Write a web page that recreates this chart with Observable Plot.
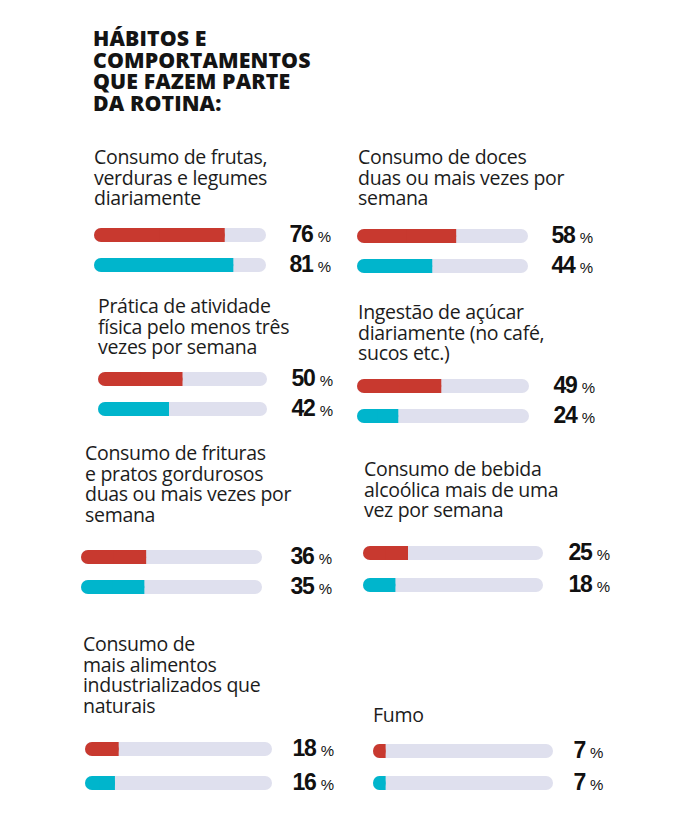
<!DOCTYPE html>
<html>
<head>
<meta charset="utf-8">
<script src="https://cdn.jsdelivr.net/npm/d3@7"></script>
<script src="https://cdn.jsdelivr.net/npm/@observablehq/plot@0.6"></script>
<style>
  html, body { margin: 0; padding: 0; background: #fff; }
  #wrap { position: relative; width: 680px; height: 823px; overflow: hidden; background: #fff; }
  .headline { position: absolute; font-family: "Open Sans", sans-serif; font-weight: 800; font-size: 21.3px; line-height: 21.7px; color: #141414; letter-spacing: 0.1px; white-space: nowrap; }
  .ptitle { position: absolute; font-family: "Open Sans", sans-serif; font-weight: 400; font-size: 19.5px; line-height: 20.5px; color: #1c1c1c; letter-spacing: -0.3px; white-space: nowrap; }
  .panel { position: absolute; }
</style>
</head>
<body>
<div id="wrap"></div>
<script>
// ---- data ----
const headline = ["HÁBITOS E", "COMPORTAMENTOS", "QUE FAZEM PARTE", "DA ROTINA:"];
const categories = [
  ["Consumo de frutas,", "verduras e legumes", "diariamente"],
  ["Consumo de doces", "duas ou mais vezes por", "semana"],
  ["Prática de atividade", "física pelo menos três", "vezes por semana"],
  ["Ingestão de açúcar", "diariamente (no café,", "sucos etc.)"],
  ["Consumo de frituras", "e pratos gordurosos", "duas ou mais vezes por", "semana"],
  ["Consumo de bebida", "alcoólica mais de uma", "vez por semana"],
  ["Consumo de", "mais alimentos", "industrializados que", "naturais"],
  ["Fumo"]
];
const seriesNames = ["vermelho", "azul"];
const redValues  = [76, 58, 50, 49, 36, 25, 18, 7];
const blueValues = [81, 44, 42, 24, 35, 18, 16, 7];
const colors = ["#c8392f", "#00b5cc"];
const trackColor = "#dfe0ee";

// ---- layout (page positions of each panel) ----
const layout = [
  {tx: 94,  ty: 147, bx: 94,  by: 220, w: 172, gap: 23, step: 30},
  {tx: 358, ty: 147, bx: 357, by: 221, w: 171, gap: 23, step: 30},
  {tx: 98,  ty: 296, bx: 98,  by: 364, w: 169, gap: 24, step: 30},
  {tx: 358, ty: 302, bx: 357, by: 371, w: 172, gap: 24, step: 30},
  {tx: 85,  ty: 443, bx: 81,  by: 542, w: 181, gap: 28, step: 30},
  {tx: 364, ty: 459, bx: 363, by: 537, w: 180, gap: 25, step: 32},
  {tx: 83,  ty: 634, bx: 85,  by: 732, w: 187, gap: 20, step: 34},
  {tx: 373, ty: 705, bx: 373, by: 735, w: 180, gap: 20, step: 32}
];

const wrap = document.getElementById("wrap");

const h = document.createElement("div");
h.className = "headline";
h.style.left = "93px";
h.style.top = "27px";
h.innerHTML = headline.join("<br>");
wrap.appendChild(h);

categories.forEach((lines, i) => {
  const L = layout[i];
  const t = document.createElement("div");
  t.className = "ptitle";
  t.style.left = L.tx + "px";
  t.style.top = L.ty + "px";
  t.innerHTML = lines.join("<br>");
  wrap.appendChild(t);

  const rows = [
    {series: seriesNames[0], value: redValues[i]},
    {series: seriesNames[1], value: blueValues[i]}
  ];
  const inset = (L.step - 14) / 2;
  const chart = Plot.plot({
    width: L.w + 90,
    height: L.step * 2,
    marginLeft: 0,
    marginRight: 90,
    marginTop: 0,
    marginBottom: 0,
    x: {domain: [0, 100], axis: null},
    y: {domain: seriesNames, padding: 0, axis: null},
    color: {domain: seriesNames, range: colors},
    style: {background: "transparent", overflow: "visible"},
    marks: [
      Plot.barX(rows, {x1: 0, x2: 100, y: "series", fill: trackColor, rx: 7, insetTop: inset, insetBottom: inset}),
      Plot.barX(rows, {x1: 0, x2: "value", y: "series", fill: "series", rx: 7, insetTop: inset, insetBottom: inset}),
      Plot.barX(rows, {x1: d => d.value / 2, x2: "value", y: "series", fill: "series", insetTop: inset, insetBottom: inset}),
      Plot.text(rows, {
        x: 100, y: "series", text: d => String(d.value), textAnchor: "start", dx: L.gap, dy: -1,
        fontSize: 23, fontWeight: 700, fill: "#111",
        fontFamily: "Liberation Sans, Arial, sans-serif"
      })
    ]
  });
  d3.select(chart).selectAll('g[aria-label="text"] text')
    .style("letter-spacing", "-1.2px")
    .append("tspan")
    .attr("dx", 5)
    .attr("font-size", 15)
    .attr("font-weight", 400)
    .style("letter-spacing", "0px")
    .text("%");
  chart.classList.add("panel");
  chart.style.position = "absolute";
  chart.style.left = L.bx + "px";
  chart.style.top = L.by + "px";
  wrap.appendChild(chart);
});
</script>
</body>
</html>
